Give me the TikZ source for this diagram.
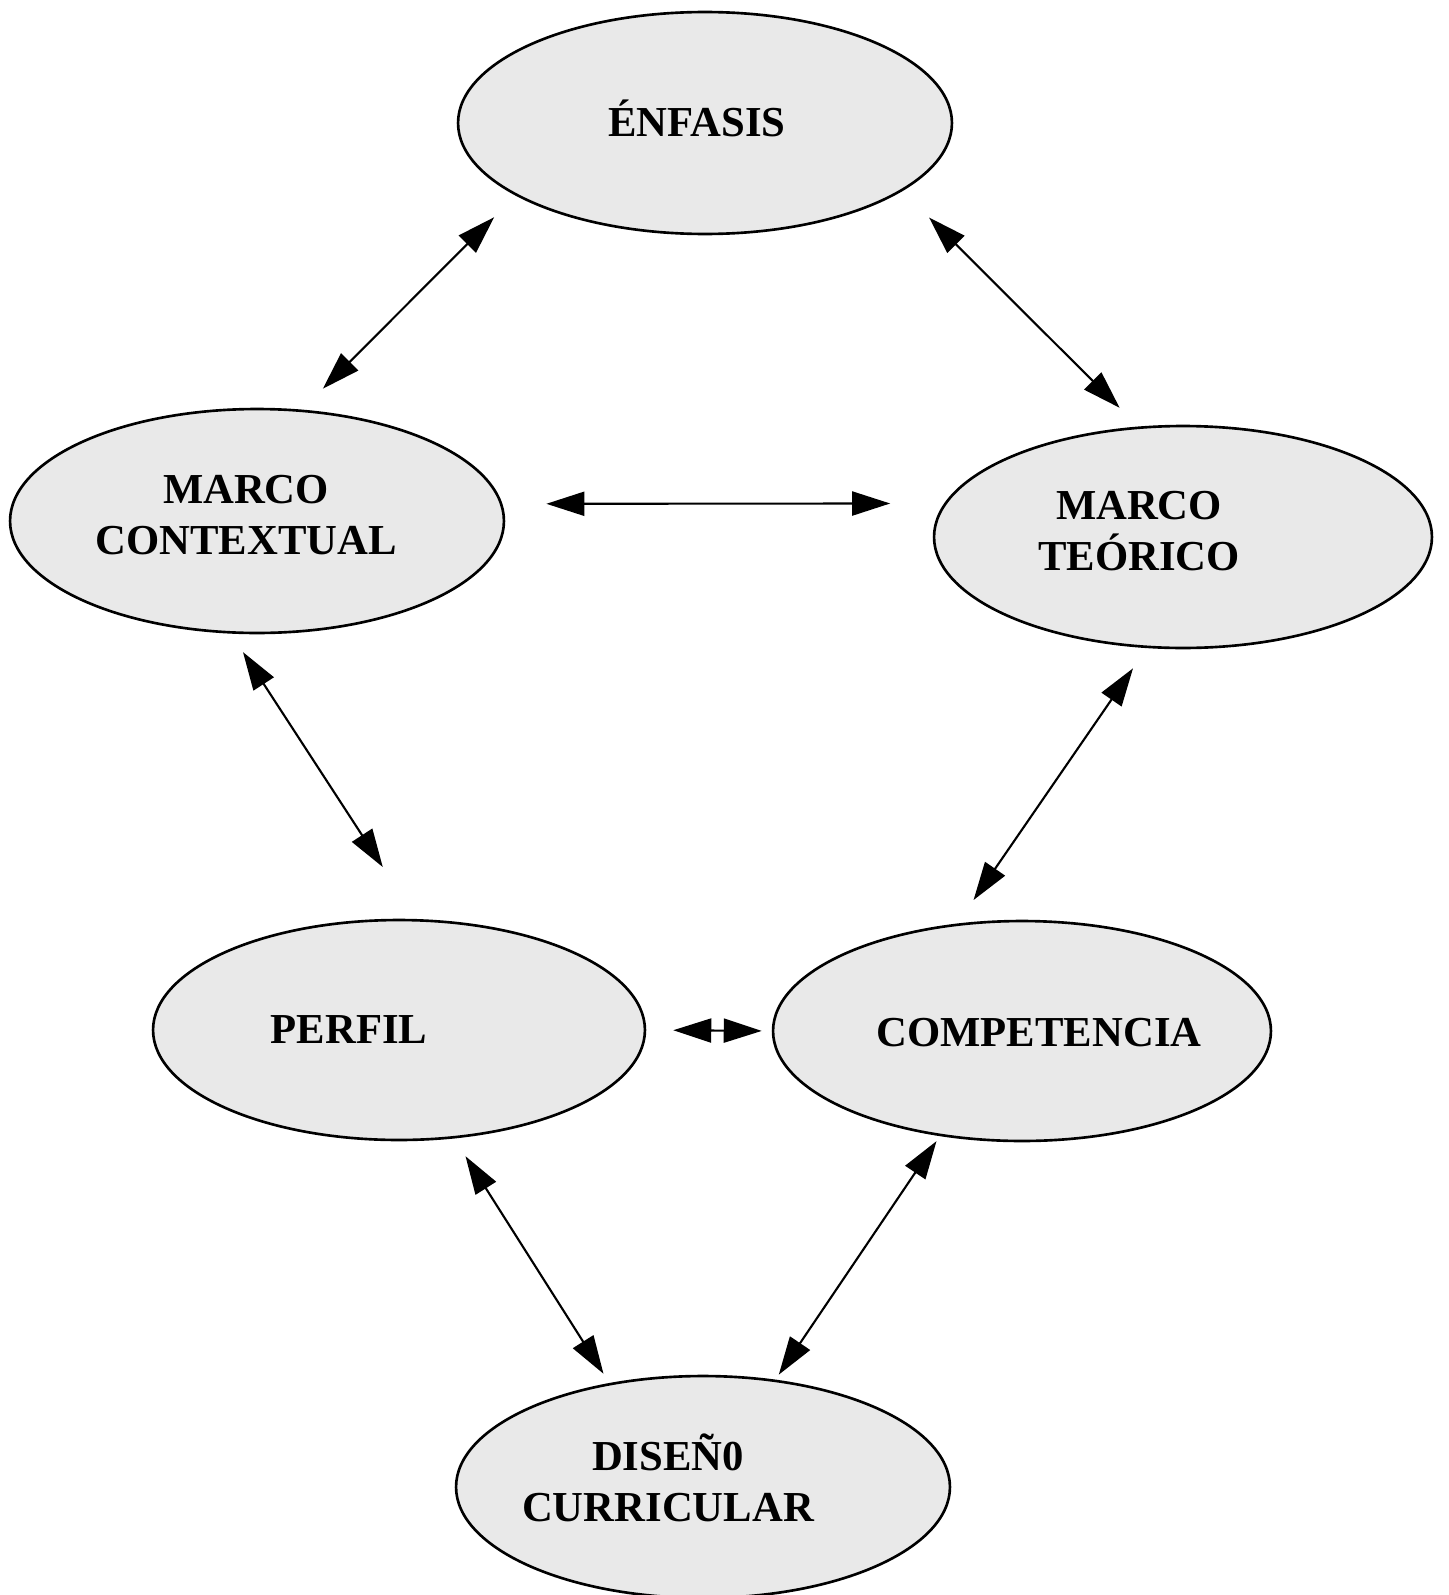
\documentclass[tikz,border=0pt]{standalone}
\usepackage{fontspec}
\setmainfont{Liberation Serif}
\usetikzlibrary{arrows.meta,shapes.geometric}
\begin{document}
\begin{tikzpicture}[x=0.02cm, y=0.02cm,
        bubble/.style={ellipse, draw, line width=1.5pt, fill=gray!17, inner sep=0pt},
        caption/.style={font=\fontsize{24.3}{29}\selectfont\bfseries, align=center},
        link/.style={line width=1.2pt, {Triangle[length=0.76cm,width=0.48cm]}-{Triangle[length=0.76cm,width=0.48cm]}}]
        \useasboundingbox (0,0) rectangle (1449,-1595);
        % the six ellipses
        \node [bubble, minimum width=9.88cm, minimum height=4.44cm, label={[caption, xshift=-0.16cm, yshift=0.09cm]center:ÉNFASIS}] (enfasis) at (705,-123) {};
        \node [bubble, minimum width=9.88cm, minimum height=4.48cm, label={[caption, xshift=-0.22cm, yshift=0.12cm]center:{MARCO\\CONTEXTUAL}}] (contextual) at (257,-521) {};
        \node [bubble, minimum width=9.96cm, minimum height=4.44cm, label={[caption, xshift=-0.88cm, yshift=0.12cm]center:{MARCO\\TEÓRICO}}] (teorico) at (1183,-537) {};
        \node [bubble, minimum width=9.84cm, minimum height=4.40cm, label={[caption, xshift=-1.0cm]center:PERFIL}] (perfil) at (399,-1030) {};
        \node [bubble, minimum width=9.96cm, minimum height=4.40cm, label={[caption, xshift=0.34cm, yshift=-0.04cm]center:COMPETENCIA}] (competencia) at (1022,-1031) {};
        \node [bubble, minimum width=9.88cm, minimum height=4.44cm, label={[caption, xshift=-0.7cm, yshift=0.18cm]center:{DISEÑ0\\CURRICULAR}}] (diseno) at (703,-1487) {};
        % double arrows
        \draw [link, shorten <=0.61cm, shorten >=0.59cm] (enfasis.201) -- (contextual.68);
        \draw [link, shorten <=0.75cm, shorten >=0.53cm] (enfasis.341) -- (teorico.112.5);
        \draw [link, shorten <=0.88cm, shorten >=1.08cm] (contextual.4) -- (teorico.172);
        \draw [link, shorten <=0.44cm, shorten >=1.24cm] (contextual.257) -- (perfil.81);
        \draw [link, shorten <=0.49cm, shorten >=0.57cm] (teorico.252) -- (competencia.121);
        \draw [link, shorten <=0.54cm, shorten >=0.20cm] (perfil.0) -- (competencia.180);
        \draw [link, shorten <=0.42cm, shorten >=0.22cm] (perfil.297) -- (diseno.132);
        \draw [link, shorten <=0.12cm, shorten >=0.12cm] (competencia.232) -- (diseno.56);
    \end{tikzpicture}
\end{document}
